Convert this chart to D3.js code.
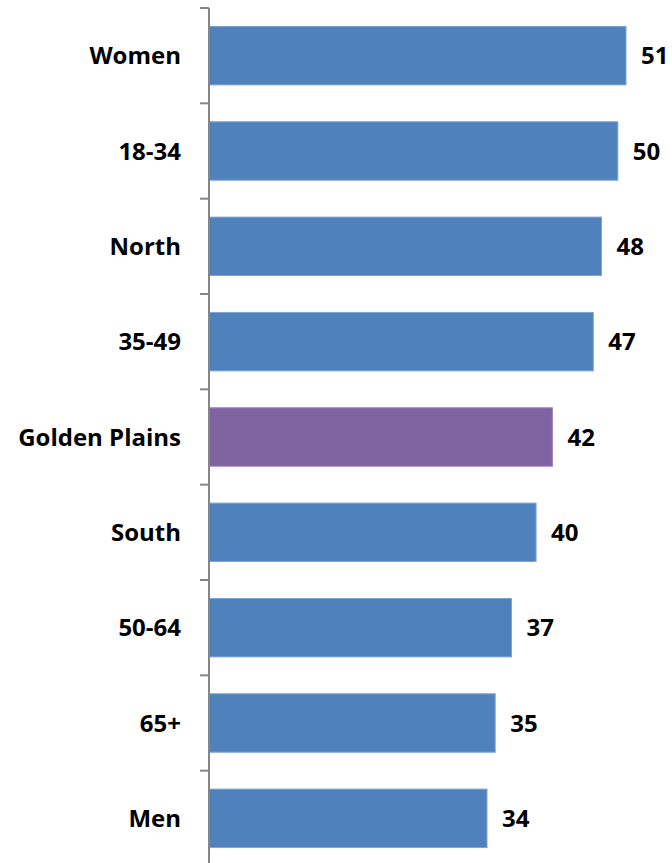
<!DOCTYPE html>
<html>
<head>
<meta charset="utf-8">
<script src="https://cdn.jsdelivr.net/npm/d3@7"></script>
<style>
  html, body { margin: 0; padding: 0; background: #fff; }
  svg { display: block; }
</style>
</head>
<body>
<div id="chart"></div>
<script>
// Chart data
const categories = ['Women', '18-34', 'North', '35-49', 'Golden Plains', 'South', '50-64', '65+', 'Men'];
const values = [51, 50, 48, 47, 42, 40, 37, 35, 34];
const highlight = 'Golden Plains';

const W = 672, H = 863;
const axisX = 209;
const plotTop = 8, plotBottom = 866;

const svg = d3.select('#chart').append('svg')
    .attr('width', W)
    .attr('height', H);

const data = categories.map((c, i) => ({ name: c, value: values[i] }));

// Scales
const x = d3.scaleLinear()
    .domain([0, 51])
    .range([axisX, 626]);

const y = d3.scaleBand()
    .domain(categories)
    .range([plotTop, plotBottom])
    .paddingInner(0.387)
    .paddingOuter(0.1935);

// Bars
svg.selectAll('.bar')
    .data(data)
    .enter().append('rect')
    .attr('class', 'bar')
    .attr('x', x(0))
    .attr('y', d => y(d.name))
    .attr('width', d => x(d.value) - x(0))
    .attr('height', y.bandwidth())
    .style('fill', d => d.name === highlight ? '#8064A2' : '#4F81BD')
    .style('stroke', d => d.name === highlight ? '#9A84BA' : '#7FA3D2')
    .style('stroke-width', 1);

// Value labels
svg.selectAll('.val')
    .data(data)
    .enter().append('text')
    .attr('class', 'val')
    .attr('x', d => x(d.value) + 15)
    .attr('y', d => y(d.name) + y.bandwidth() / 2)
    .attr('dy', '0.36em')
    .style('font-family', '"Open Sans", sans-serif')
    .style('font-weight', 'bold')
    .style('font-size', '24px')
    .style('fill', '#000')
    .text(d => d.value);

// Category axis (ticks between categories)
const axisG = svg.append('g');
axisG.append('line')
    .attr('x1', axisX).attr('x2', axisX)
    .attr('y1', plotTop).attr('y2', H)
    .style('stroke', '#868686')
    .style('stroke-width', 2);

const tickYs = categories.map(c => y(c) - y.step() * y.paddingInner() / 2);
tickYs.push(plotBottom);
axisG.selectAll('.tick')
    .data(tickYs)
    .enter().append('line')
    .attr('x1', axisX - 9).attr('x2', axisX)
    .attr('y1', d => d).attr('y2', d => d)
    .style('stroke', '#868686')
    .style('stroke-width', 2);

// Category labels
svg.selectAll('.cat')
    .data(categories)
    .enter().append('text')
    .attr('class', 'cat')
    .attr('x', axisX - 28)
    .attr('y', d => y(d) + y.bandwidth() / 2)
    .attr('dy', '0.36em')
    .style('text-anchor', 'end')
    .style('font-family', '"Open Sans", sans-serif')
    .style('font-weight', 'bold')
    .style('font-size', '24px')
    .style('fill', '#000')
    .text(d => d);
</script>
</body>
</html>
